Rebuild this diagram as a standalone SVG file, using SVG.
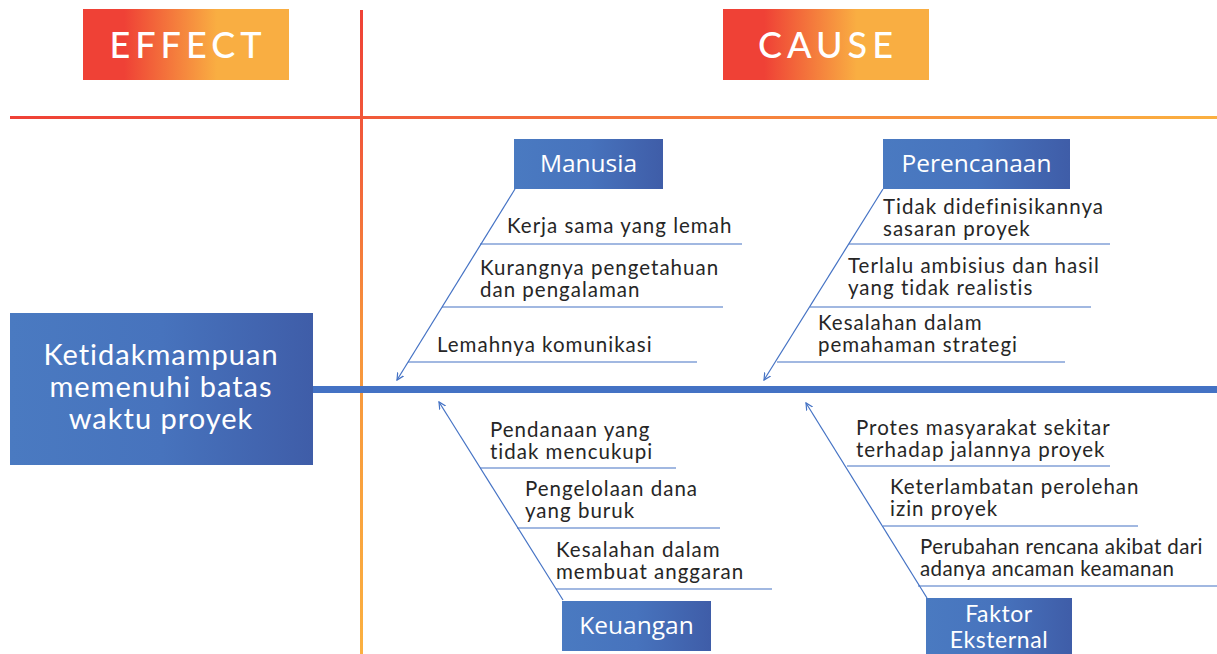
<svg xmlns="http://www.w3.org/2000/svg" width="1217" height="654" viewBox="0 0 1217 654">
<defs>
<linearGradient id="warm" x1="0" y1="0" x2="1" y2="0">
<stop offset="0.2" stop-color="#EF4136"/>
<stop offset="0.65" stop-color="#F9AE42"/>
<stop offset="1" stop-color="#F9AE42"/>
</linearGradient>
<linearGradient id="hline" gradientUnits="userSpaceOnUse" x1="10" y1="0" x2="1217" y2="0">
<stop offset="0" stop-color="#EF4136"/>
<stop offset="0.3" stop-color="#F15A3A"/>
<stop offset="1" stop-color="#FBB040"/>
</linearGradient>
<linearGradient id="vline" gradientUnits="userSpaceOnUse" x1="0" y1="10" x2="0" y2="654">
<stop offset="0" stop-color="#EF4136"/>
<stop offset="0.2" stop-color="#F15A3A"/>
<stop offset="0.5" stop-color="#F7943C"/>
<stop offset="1" stop-color="#FBB040"/>
</linearGradient>
<linearGradient id="blue" x1="0" y1="0" x2="1" y2="0">
<stop offset="0" stop-color="#4A7AC1"/>
<stop offset="0.5" stop-color="#4773BD"/>
<stop offset="1" stop-color="#3F5DA8"/>
</linearGradient>
<marker id="arr" markerWidth="8" markerHeight="8" refX="7" refY="4" orient="auto" markerUnits="userSpaceOnUse">
<path d="M0,0.5 L7,4 L0,7.5" fill="none" stroke="#4472C4" stroke-width="1.2"/>
</marker>
<style>
.t{font-family:Lato,"Open Sans",sans-serif;font-size:20.5px;fill:#262626;letter-spacing:1px}
.t.n{letter-spacing:0.4px}
.w{font-family:"Open Sans",Lato,sans-serif;fill:#fff;text-anchor:middle}
.wl{font-family:Lato,"Open Sans",sans-serif;fill:#fff;text-anchor:middle}
.h{font-family:Lato,"Open Sans",sans-serif;fill:#fff;text-anchor:middle;font-size:36px;letter-spacing:5px;font-weight:500}
.bone{stroke:#4472C4;stroke-width:1.2;fill:none}
.sub{stroke:#4472C4;stroke-width:1.2}
</style>
</defs>

<g id="axes">
<line x1="10" y1="117.5" x2="1217" y2="117.5" stroke="url(#hline)" stroke-width="3"/>
<line x1="361.5" y1="10" x2="361.5" y2="654" stroke="url(#vline)" stroke-width="3"/>
</g>

<g id="effect-label">
<rect x="83" y="9" width="206" height="71" fill="url(#warm)"/>
<text class="h" x="188" y="58">EFFECT</text>
</g>
<g id="cause-label">
<rect x="723" y="9" width="206" height="71" fill="url(#warm)"/>
<text class="h" x="828" y="58">CAUSE</text>
</g>

<g id="connectors">
<rect x="313" y="386" width="904" height="7" fill="#4472C4"/>
<line class="bone" x1="515" y1="189" x2="397" y2="380" marker-end="url(#arr)"/>
<line class="bone" x1="883" y1="189" x2="764" y2="380" marker-end="url(#arr)"/>
<line class="bone" x1="563" y1="600" x2="439" y2="402" marker-end="url(#arr)"/>
<line class="bone" x1="927" y1="598" x2="806" y2="403" marker-end="url(#arr)"/>
<line class="sub" x1="480" y1="244" x2="742" y2="244"/>
<line class="sub" x1="442" y1="307" x2="723" y2="307"/>
<line class="sub" x1="408" y1="362" x2="697" y2="362"/>
<line class="sub" x1="849" y1="244" x2="1110" y2="244"/>
<line class="sub" x1="810" y1="307" x2="1091" y2="307"/>
<line class="sub" x1="777" y1="362" x2="1065" y2="362"/>
<line class="sub" x1="480" y1="468" x2="676" y2="468"/>
<line class="sub" x1="517" y1="528" x2="720" y2="528"/>
<line class="sub" x1="556" y1="589" x2="772" y2="589"/>
<line class="sub" x1="847" y1="466" x2="1110" y2="466"/>
<line class="sub" x1="883" y1="526" x2="1138" y2="526"/>
<line class="sub" x1="918" y1="586" x2="1217" y2="586"/>
</g>

<g id="effect">
<rect x="10" y="313" width="303" height="152" fill="url(#blue)"/>
<text class="wl" font-size="29" letter-spacing="1"><tspan x="161" y="365">Ketidakmampuan</tspan><tspan x="161" y="397">memenuhi batas</tspan><tspan x="161" y="429">waktu proyek</tspan></text>
</g>

<g id="manusia">
<rect x="514" y="139" width="149" height="50" fill="url(#blue)"/>
<text class="w" font-size="24.5" x="588.5" y="172">Manusia</text>
</g>
<g id="perencanaan">
<rect x="883" y="139" width="187" height="50" fill="url(#blue)"/>
<text class="w" font-size="24.5" x="976.5" y="172">Perencanaan</text>
</g>
<g id="keuangan">
<rect x="562" y="601" width="149" height="50" fill="url(#blue)"/>
<text class="w" font-size="24.5" x="636.5" y="634">Keuangan</text>
</g>
<g id="faktor-eksternal">
<rect x="926" y="598" width="146" height="56" fill="url(#blue)"/>
<text class="wl" font-size="23" letter-spacing="0.6"><tspan x="999" y="622">Faktor</tspan><tspan x="999" y="648">Eksternal</tspan></text>
</g>

<g id="manusia-causes">
<text class="t" x="507" y="233">Kerja sama yang lemah</text>
<text class="t"><tspan x="480" y="275">Kurangnya pengetahuan</tspan><tspan x="480" y="297">dan pengalaman</tspan></text>
<text class="t" x="437" y="352">Lemahnya komunikasi</text>
</g>
<g id="perencanaan-causes">
<text class="t"><tspan x="883" y="214">Tidak didefinisikannya</tspan><tspan x="883" y="236">sasaran proyek</tspan></text>
<text class="t"><tspan x="848" y="273">Terlalu ambisius dan hasil</tspan><tspan x="848" y="295">yang tidak realistis</tspan></text>
<text class="t"><tspan x="818" y="330">Kesalahan dalam</tspan><tspan x="818" y="352">pemahaman strategi</tspan></text>
</g>
<g id="keuangan-causes">
<text class="t"><tspan x="490" y="437">Pendanaan yang</tspan><tspan x="490" y="459">tidak mencukupi</tspan></text>
<text class="t"><tspan x="525" y="496">Pengelolaan dana</tspan><tspan x="525" y="518">yang buruk</tspan></text>
<text class="t"><tspan x="556" y="557">Kesalahan dalam</tspan><tspan x="556" y="579">membuat anggaran</tspan></text>
</g>
<g id="faktor-causes">
<text class="t"><tspan x="856" y="435">Protes masyarakat sekitar</tspan><tspan x="856" y="457">terhadap jalannya proyek</tspan></text>
<text class="t"><tspan x="890" y="494">Keterlambatan perolehan</tspan><tspan x="890" y="516">izin proyek</tspan></text>
<text class="t n"><tspan x="920" y="554">Perubahan rencana akibat dari</tspan><tspan x="920" y="576">adanya ancaman keamanan</tspan></text>
</g>
</svg>
